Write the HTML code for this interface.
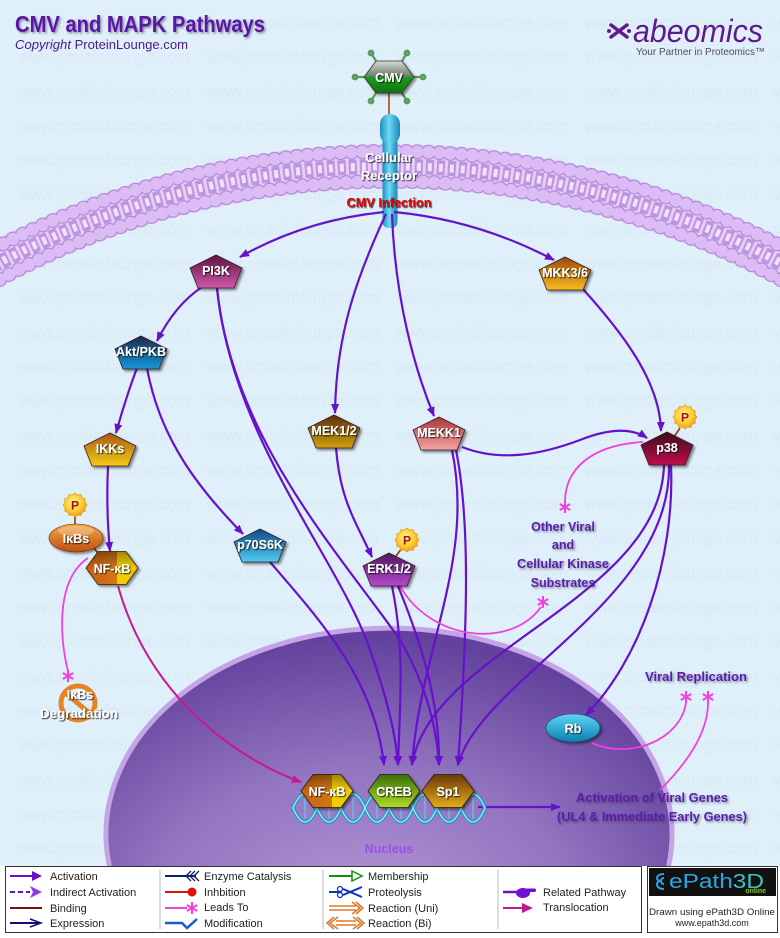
<!DOCTYPE html>
<html><head><meta charset="utf-8">
<style>
html,body{margin:0;padding:0;background:#e0f0fa;width:780px;height:938px;overflow:hidden;}
svg{display:block;overflow:hidden;}
text{font-family:"Liberation Sans",sans-serif;}
</style></head><body>
<svg width="780" height="938" viewBox="0 0 780 938" xmlns="http://www.w3.org/2000/svg">
<defs>
 <clipPath id="clipAll"><rect x="0" y="0" width="780" height="938"/></clipPath>
 <pattern id="wm" patternUnits="userSpaceOnUse" x="0" y="0" width="189" height="34.4">
  <text x="18" y="28" font-size="16" fill="none" stroke="#d7e7f2" stroke-width="0.45" textLength="172" lengthAdjust="spacingAndGlyphs">www.proteinlounge.com</text>
 </pattern>
 <filter id="ds" x="-30%" y="-30%" width="170%" height="170%"><feDropShadow dx="2" dy="2" stdDeviation="1.2" flood-color="#000" flood-opacity="0.45"/></filter>
 <filter id="ts" x="-20%" y="-40%" width="150%" height="190%"><feDropShadow dx="1" dy="1" stdDeviation="0.5" flood-color="#000" flood-opacity="0.8"/></filter>
 <filter id="ps" x="-20%" y="-40%" width="150%" height="190%"><feDropShadow dx="1.5" dy="1.5" stdDeviation="1" flood-color="#333" flood-opacity="0.5"/></filter>
 <marker id="ap" viewBox="0 0 10 8" refX="9" refY="4" markerWidth="10" markerHeight="8" markerUnits="userSpaceOnUse" orient="auto"><path d="M0,0 L10,4 L0,8 z" fill="#6611cc"/></marker>
 <marker id="at" viewBox="0 0 10 8" refX="9" refY="4" markerWidth="10" markerHeight="8" markerUnits="userSpaceOnUse" orient="auto"><path d="M0,0 L10,4 L0,8 z" fill="#c81890"/></marker>
 <linearGradient id="gPI3K" x1="0" y1="0" x2="0" y2="1"><stop offset="0" stop-color="#5a1440"/><stop offset="1" stop-color="#d058a8"/></linearGradient>
 <linearGradient id="gAkt" x1="0" y1="0" x2="0" y2="1"><stop offset="0" stop-color="#1c2850"/><stop offset="1" stop-color="#1898d8"/></linearGradient>
 <linearGradient id="gIKK" x1="0" y1="0" x2="0" y2="1"><stop offset="0" stop-color="#a85a10"/><stop offset="1" stop-color="#f4cc18"/></linearGradient>
 <linearGradient id="gMEK" x1="0" y1="0" x2="0" y2="1"><stop offset="0" stop-color="#5a3008"/><stop offset="1" stop-color="#d0a010"/></linearGradient>
 <linearGradient id="gMEKK" x1="0" y1="0" x2="0" y2="1"><stop offset="0" stop-color="#a83838"/><stop offset="1" stop-color="#f4a4a4"/></linearGradient>
 <linearGradient id="gERK" x1="0" y1="0" x2="0" y2="1"><stop offset="0" stop-color="#4a1a5a"/><stop offset="1" stop-color="#b848d0"/></linearGradient>
 <linearGradient id="gp38" x1="0" y1="0" x2="0" y2="1"><stop offset="0" stop-color="#3a0818"/><stop offset="1" stop-color="#c0104e"/></linearGradient>
 <linearGradient id="gMKK" x1="0" y1="0" x2="0" y2="1"><stop offset="0" stop-color="#a04808"/><stop offset="1" stop-color="#f4bc20"/></linearGradient>
 <linearGradient id="gp70" x1="0" y1="0" x2="0" y2="1"><stop offset="0" stop-color="#104888"/><stop offset="1" stop-color="#50ccf4"/></linearGradient>
 <linearGradient id="gNF" x1="0" y1="0" x2="1" y2="0"><stop offset="0" stop-color="#c86010"/><stop offset="0.6" stop-color="#d07818"/><stop offset="0.6" stop-color="#f0d000"/><stop offset="1" stop-color="#f0c800"/></linearGradient>
 <linearGradient id="gNFv" x1="0" y1="0" x2="0" y2="1"><stop offset="0" stop-color="#000" stop-opacity="0.35"/><stop offset="0.5" stop-color="#000" stop-opacity="0"/><stop offset="1" stop-color="#000" stop-opacity="0"/></linearGradient>
 <linearGradient id="gCREB" x1="0" y1="0" x2="0" y2="1"><stop offset="0" stop-color="#3a7008"/><stop offset="1" stop-color="#acdc28"/></linearGradient>
 <linearGradient id="gSp1" x1="0" y1="0" x2="0" y2="1"><stop offset="0" stop-color="#6a3808"/><stop offset="1" stop-color="#e4ac18"/></linearGradient>
 <linearGradient id="gRb" x1="0" y1="0" x2="0" y2="1"><stop offset="0" stop-color="#60d4f4"/><stop offset="1" stop-color="#0c80b0"/></linearGradient>
 <linearGradient id="gIkb" x1="0" y1="0" x2="0" y2="1"><stop offset="0" stop-color="#f4a848"/><stop offset="1" stop-color="#c05010"/></linearGradient>
 <linearGradient id="gRec" x1="0" y1="0" x2="1" y2="0"><stop offset="0" stop-color="#1890c0"/><stop offset="0.45" stop-color="#70d8f4"/><stop offset="1" stop-color="#1a88b8"/></linearGradient>
 <linearGradient id="gCMV" x1="0" y1="0" x2="0" y2="1"><stop offset="0" stop-color="#d4dcd4"/><stop offset="0.49" stop-color="#6a786a"/><stop offset="0.5" stop-color="#12a012"/><stop offset="1" stop-color="#1a701a"/></linearGradient>
 <radialGradient id="gNuc" gradientUnits="userSpaceOnUse" cx="361" cy="925" r="396" gradientTransform="translate(361,925) scale(1,0.727) translate(-361,-925)"><stop offset="0" stop-color="#b698d8"/><stop offset="0.55" stop-color="#9274c0"/><stop offset="1" stop-color="#62429c"/></radialGradient>
 <radialGradient id="gP" cx="0.45" cy="0.4" r="0.6"><stop offset="0" stop-color="#fff49a"/><stop offset="0.6" stop-color="#ffcc30"/><stop offset="1" stop-color="#f09818"/></radialGradient>
 <g id="ast"><path d="M0,-6 V6 M-5.2,-3 L5.2,3 M-5.2,3 L5.2,-3" stroke="#f040e0" stroke-width="2" fill="none"/></g>
 <g id="pst"><polygon points="12,0 9.95,2.67 10.39,6 7.28,7.28 6,10.39 2.67,9.95 0,12 -2.67,9.95 -6,10.39 -7.28,7.28 -10.39,6 -9.95,2.67 -12,0 -9.95,-2.67 -10.39,-6 -7.28,-7.28 -6,-10.39 -2.67,-9.95 0,-12 2.67,-9.95 6,-10.39 7.28,-7.28 10.39,-6 9.95,-2.67" fill="url(#gP)" stroke="#e8a020" stroke-width="0.8"/><text x="0" y="4.5" font-size="12" font-weight="bold" fill="#a01010" text-anchor="middle">P</text></g>
</defs>

<g clip-path="url(#clipAll)">
<rect width="780" height="938" fill="#e0f0fa"/>
<rect width="780" height="866" fill="url(#wm)"/>

<!-- Title -->
<text x="15" y="32" font-size="23" font-weight="bold" fill="#5a14a8" textLength="250" lengthAdjust="spacingAndGlyphs" filter="url(#ps)">CMV and MAPK Pathways</text>
<text x="15" y="49" font-size="12.5" fill="#4a1a90" textLength="173" lengthAdjust="spacingAndGlyphs"><tspan font-style="italic">Copyright</tspan> ProteinLounge.com</text>

<!-- abeomics -->
<g stroke="#5e1a8e" stroke-width="3.5" stroke-linecap="round" fill="none">
 <path d="M611,25 L627,37 M627,25 L611,37"/>
</g>
<circle cx="609" cy="31" r="2" fill="#5e1a8e"/><circle cx="629" cy="31" r="2" fill="#5e1a8e"/>
<text x="633" y="42" font-size="32" font-style="italic" fill="#5e1a8e" textLength="130" lengthAdjust="spacingAndGlyphs">abeomics</text>
<text x="636" y="55" font-size="10.5" fill="#505050" textLength="129" lengthAdjust="spacingAndGlyphs">Your Partner in Proteomics™</text>

<!-- Membrane -->
<g fill="none">
 <path d="M-56,294.5 A840,840 0 0 1 836,294.5" stroke="#e6ccf6" stroke-width="44"/>
 <path d="M-56,294.5 A840,840 0 0 1 836,294.5" stroke="#bd94e0" stroke-width="15" stroke-dasharray="8 3"/>
 <path d="M-56,294.5 A840,840 0 0 1 836,294.5" stroke="#f0e2fb" stroke-width="8" stroke-dasharray="4 7" stroke-dashoffset="-2"/>
 <path d="M-64,281.8 A855,855 0 0 1 844,281.8" stroke="#b48cda" stroke-width="15" stroke-dasharray="0 11" stroke-linecap="round"/>
 <path d="M-64,281.8 A855,855 0 0 1 844,281.8" stroke="#dcbcf4" stroke-width="12.5" stroke-dasharray="0 11" stroke-linecap="round"/>
 <path d="M-48,307.2 A825,825 0 0 1 828,307.2" stroke="#b48cda" stroke-width="15" stroke-dasharray="0 11" stroke-linecap="round"/>
 <path d="M-48,307.2 A825,825 0 0 1 828,307.2" stroke="#dcbcf4" stroke-width="12.5" stroke-dasharray="0 11" stroke-linecap="round"/>
</g>

<!-- CMV virus + receptor -->
<line x1="389" y1="93" x2="389" y2="116" stroke="#a04818" stroke-width="1.6"/>
<g stroke="#5a9a5a" stroke-width="2.2" fill="#6aaa6a">
 <line x1="376" y1="61" x2="371" y2="53"/><line x1="402" y1="61" x2="407" y2="53"/>
 <line x1="414" y1="77" x2="423" y2="77"/><line x1="364" y1="77" x2="355" y2="77"/>
 <line x1="402" y1="93" x2="407" y2="101"/><line x1="376" y1="93" x2="371" y2="101"/>
 <circle cx="371" cy="53" r="2.3"/><circle cx="407" cy="53" r="2.3"/><circle cx="423" cy="77" r="2.3"/>
 <circle cx="355" cy="77" r="2.3"/><circle cx="407" cy="101" r="2.3"/><circle cx="371" cy="101" r="2.3"/>
</g>
<polygon points="364,77 376,61 402,61 414,77 402,93 376,93" fill="url(#gCMV)" stroke="#2a3a2a" stroke-width="0.8" filter="url(#ds)"/>
<text x="389" y="82" font-size="12.5" font-weight="bold" fill="#fff" text-anchor="middle" filter="url(#ts)">CMV</text>

<rect x="382.5" y="130" width="15" height="98" rx="6" fill="url(#gRec)"/>
<rect x="380" y="114" width="20" height="30" rx="10" fill="url(#gRec)"/>
<text x="389" y="162" font-size="13" font-weight="bold" fill="#fff" text-anchor="middle" filter="url(#ts)">Cellular</text>
<text x="389" y="180" font-size="13" font-weight="bold" fill="#fff" text-anchor="middle" filter="url(#ts)">Receptor</text>
<text x="389" y="207" font-size="12.5" font-weight="bold" fill="#e80000" text-anchor="middle" textLength="85" lengthAdjust="spacingAndGlyphs" filter="url(#ts)">CMV Infection</text>

<!-- Nucleus (clipped at legend top) -->
<path d="M109.4,866 A283,206 0 1 1 668.6,866 Z" fill="url(#gNuc)"/>
<path d="M109.4,866 A283,206 0 1 1 668.6,866" fill="none" stroke="#c4a4e4" stroke-width="5"/>

<!-- Activation arrows -->
<g fill="none" stroke="#6611cc" stroke-width="2.2" marker-end="url(#ap)">
 <path d="M384,212 Q305,220 240,257"/>
 <path d="M394,212 Q478,220 554,260"/>
 <path d="M386,214 C360,270 336,330 335,413"/>
 <path d="M392,214 C395,300 415,370 434,416"/>
 <path d="M202,287 Q175,305 157,341"/>
 <path d="M137,368 Q125,400 116,433"/>
 <path d="M147,368 C160,440 200,490 243,534"/>
 <path d="M108,466 Q106,510 110,551"/>
 <path d="M336,447 C340,500 355,520 372,557"/>
 <path d="M217,288 C232,440 340,560 370,650 Q395,720 398,765"/>
 <path d="M217,288 C232,440 345,560 400,640 Q435,700 439,765"/>
 <path d="M270,562 C320,620 375,680 384,765"/>
 <path d="M392,586 C405,650 400,700 398,765"/>
 <path d="M398,586 C420,640 440,700 439,765"/>
 <path d="M452,450 C475,560 420,650 412,765"/>
 <path d="M456,450 C470,520 468,620 458,765"/>
 <path d="M664,465 C660,600 430,650 412,765"/>
 <path d="M669,465 C672,600 480,680 458,765"/>
 <path d="M671,465 C675,560 640,660 586,715"/>
 <path d="M462,447 C500,462 540,455 580,440 C610,428 632,428 647,438"/>
 <path d="M582,288 C620,330 660,380 661,431"/>
 <path d="M478,807 L560,807"/>
</g>

<!-- Leads-to (pink) -->
<g fill="none" stroke="#f040e0" stroke-width="1.8">
 <path d="M643,442 C590,445 565,470 565,502"/>
 <path d="M400,586 C430,640 510,650 541,607"/>
 <path d="M88,558 C55,580 60,640 68,671"/>
 <path d="M592,743 C630,760 680,740 686,703"/>
 <path d="M660,790 C690,760 708,730 708,703"/>
</g>
<use href="#ast" x="565" y="507"/>
<use href="#ast" x="543" y="602"/>
<use href="#ast" x="68" y="676"/>
<use href="#ast" x="686" y="697"/>
<use href="#ast" x="708" y="697"/>

<!-- Translocation -->
<path d="M118,586 C150,700 240,760 301,782" fill="none" stroke="#c81890" stroke-width="2" marker-end="url(#at)"/>

<!-- binding lines -->
<g stroke="#8a3a10" stroke-width="1.6">
 <line x1="75" y1="516" x2="75" y2="525"/>
 <line x1="94" y1="548" x2="100" y2="556"/>
 <line x1="402" y1="548" x2="396" y2="556"/>
 <line x1="680" y1="428" x2="674" y2="437"/>
</g>

<!-- Pentagon nodes -->
<g filter="url(#ds)" stroke="#3a1a2a" stroke-width="0.8">
 <polygon transform="translate(216,271)" points="0,-16 26,-3 18,17 -18,17 -26,-3" fill="url(#gPI3K)"/>
 <polygon transform="translate(141,352)" points="0,-16 26,-3 18,17 -18,17 -26,-3" fill="url(#gAkt)"/>
 <polygon transform="translate(110,449)" points="0,-16 26,-3 18,17 -18,17 -26,-3" fill="url(#gIKK)"/>
 <polygon transform="translate(260,545)" points="0,-16 26,-3 18,17 -18,17 -26,-3" fill="url(#gp70)"/>
 <polygon transform="translate(334,431)" points="0,-16 26,-3 18,17 -18,17 -26,-3" fill="url(#gMEK)"/>
 <polygon transform="translate(439,433)" points="0,-16 26,-3 18,17 -18,17 -26,-3" fill="url(#gMEKK)"/>
 <polygon transform="translate(389,569)" points="0,-16 26,-3 18,17 -18,17 -26,-3" fill="url(#gERK)"/>
 <polygon transform="translate(667,448)" points="0,-16 26,-3 18,17 -18,17 -26,-3" fill="url(#gp38)"/>
 <polygon transform="translate(565,273)" points="0,-16 26,-3 18,17 -18,17 -26,-3" fill="url(#gMKK)"/>
</g>
<g font-size="12.5" font-weight="bold" fill="#fff" text-anchor="middle" filter="url(#ts)">
 <text x="216" y="275">PI3K</text>
 <text x="141" y="356">Akt/PKB</text>
 <text x="110" y="453">IKKs</text>
 <text x="260" y="549">p70S6K</text>
 <text x="334" y="435">MEK1/2</text>
 <text x="439" y="437">MEKK1</text>
 <text x="389" y="573">ERK1/2</text>
 <text x="667" y="452">p38</text>
 <text x="565" y="277">MKK3/6</text>
</g>

<!-- P stars -->
<use href="#pst" x="75" y="505"/>
<use href="#pst" x="407" y="540"/>
<use href="#pst" x="685" y="417"/>

<!-- IkBs ellipse + NF-kB cyto -->
<ellipse cx="76" cy="538" rx="27" ry="14" fill="url(#gIkb)" stroke="#6a2a08" stroke-width="0.6" filter="url(#ds)"/>
<ellipse cx="76" cy="531" rx="18" ry="5" fill="#fff" opacity="0.25"/>
<text x="76" y="543" font-size="12.5" font-weight="bold" fill="#fff" text-anchor="middle" filter="url(#ts)">IκBs</text>
<g transform="translate(112,568)" filter="url(#ds)">
 <polygon points="-26,0 -14,-16.5 14,-16.5 26,0 14,16.5 -14,16.5" fill="url(#gNF)" stroke="#3a1a08" stroke-width="0.8"/>
 <polygon points="-26,0 -14,-16.5 14,-16.5 26,0 14,16.5 -14,16.5" fill="url(#gNFv)"/>
</g>
<text x="112" y="573" font-size="12.5" font-weight="bold" fill="#fff" text-anchor="middle" filter="url(#ts)">NF-κB</text>

<!-- IkBs degradation -->
<circle cx="78" cy="703" r="17" fill="none" stroke="#e48424" stroke-width="5"/>
<line x1="63" y1="691" x2="93" y2="716" stroke="#e48424" stroke-width="5"/>
<text x="80" y="699" font-size="12.5" font-weight="bold" fill="#fff" text-anchor="middle" filter="url(#ts)">IκBs</text>
<text x="79" y="718" font-size="12.5" font-weight="bold" fill="#fff" text-anchor="middle" filter="url(#ts)" textLength="78" lengthAdjust="spacingAndGlyphs">Degradation</text>

<!-- Rb -->
<ellipse cx="573" cy="728" rx="27" ry="14" fill="url(#gRb)" stroke="#08506a" stroke-width="0.6" filter="url(#ds)"/>
<text x="573" y="733" font-size="12.5" font-weight="bold" fill="#fff" text-anchor="middle" filter="url(#ts)">Rb</text>

<!-- DNA -->
<g fill="none">
 <path d="M293,808 Q305,780 317,808 T341,808 T365,808 T389,808 T413,808 T437,808 T461,808 T485,808" stroke="#2a98c8" stroke-width="4"/>
 <path d="M293,808 Q305,836 317,808 T341,808 T365,808 T389,808 T413,808 T437,808 T461,808 T485,808" stroke="#2a98c8" stroke-width="4"/>
 <path d="M293,808 Q305,780 317,808 T341,808 T365,808 T389,808 T413,808 T437,808 T461,808 T485,808" stroke="#a8e8fa" stroke-width="1.3"/>
 <path d="M293,808 Q305,836 317,808 T341,808 T365,808 T389,808 T413,808 T437,808 T461,808 T485,808" stroke="#a8e8fa" stroke-width="1.3"/>
 <g stroke="#5ec0e4" stroke-width="1.5">
  <path d="M305,797 V819 M329,797 V819 M353,797 V819 M377,797 V819 M401,797 V819 M425,797 V819 M449,797 V819 M473,797 V819"/>
 </g>
</g>

<!-- Nuclear hexagons -->
<g filter="url(#ds)" stroke="#2a1a08" stroke-width="0.8">
 <g transform="translate(327,791)">
  <polygon points="-26,0 -14,-16.5 14,-16.5 26,0 14,16.5 -14,16.5" fill="url(#gNF)"/>
  <polygon points="-26,0 -14,-16.5 14,-16.5 26,0 14,16.5 -14,16.5" fill="url(#gNFv)" stroke="none"/>
 </g>
 <polygon transform="translate(394,791)" points="-26,0 -14,-16.5 14,-16.5 26,0 14,16.5 -14,16.5" fill="url(#gCREB)"/>
 <polygon transform="translate(448,791)" points="-26,0 -14,-16.5 14,-16.5 26,0 14,16.5 -14,16.5" fill="url(#gSp1)"/>
</g>
<g font-size="12.5" font-weight="bold" fill="#fff" text-anchor="middle" filter="url(#ts)">
 <text x="327" y="796">NF-κB</text>
 <text x="394" y="796">CREB</text>
 <text x="448" y="796">Sp1</text>
</g>
<text x="389" y="853" font-size="12.5" font-weight="bold" fill="#9b4fe8" text-anchor="middle">Nucleus</text>

<!-- Purple labels -->
<g font-size="12.5" font-weight="bold" fill="#5a1ab0" text-anchor="middle" filter="url(#ps)">
 <text x="563" y="531">Other Viral</text>
 <text x="563" y="549">and</text>
 <text x="563" y="568" textLength="92" lengthAdjust="spacingAndGlyphs">Cellular Kinase</text>
 <text x="563" y="587">Substrates</text>
 <text x="696" y="681" textLength="102" lengthAdjust="spacingAndGlyphs">Viral Replication</text>
 <text x="652" y="802" textLength="152" lengthAdjust="spacingAndGlyphs">Activation of Viral Genes</text>
 <text x="652" y="821" textLength="190" lengthAdjust="spacingAndGlyphs">(UL4 &amp; Immediate Early Genes)</text>
</g>

<!-- Legend -->
<rect x="0" y="866" width="780" height="72" fill="#ffffff"/>
<rect x="5.5" y="866.5" width="636" height="66" fill="#fff" stroke="#333" stroke-width="1"/>
<g stroke="#bbb" stroke-width="1">
 <line x1="160" y1="870" x2="160" y2="929"/>
 <line x1="323" y1="870" x2="323" y2="929"/>
 <line x1="498" y1="870" x2="498" y2="929"/>
</g>
<!-- col1 -->
<line x1="10" y1="876" x2="33" y2="876" stroke="#6611cc" stroke-width="2"/>
<path d="M32,871 L42,876 L32,881z" fill="#6611cc"/>
<line x1="10" y1="892" x2="30" y2="892" stroke="#6611cc" stroke-width="2" stroke-dasharray="5 3"/>
<path d="M30,886 L42,892 L30,898 L33,892z" fill="#8a3ae8"/>
<line x1="10" y1="908" x2="42" y2="908" stroke="#7a1010" stroke-width="2"/>
<line x1="10" y1="923" x2="40" y2="923" stroke="#101070" stroke-width="2"/>
<path d="M30,919 L41,923 L30,927" fill="none" stroke="#101070" stroke-width="1.5"/>
<!-- col2 -->
<line x1="165" y1="876" x2="196" y2="876" stroke="#102070" stroke-width="2"/>
<path d="M191,871 L186,876 L191,881 M195,871 L190,876 L195,881 M199,871 L194,876 L199,881" fill="none" stroke="#102070" stroke-width="1.3"/>
<line x1="165" y1="892" x2="190" y2="892" stroke="#e01010" stroke-width="2"/>
<circle cx="192" cy="892" r="4.5" fill="#e01010"/>
<line x1="165" y1="908" x2="187" y2="908" stroke="#f040e0" stroke-width="2"/>
<use href="#ast" x="192" y="908"/>
<path d="M165,923 H182 L187,928 L197,919" fill="none" stroke="#1060d0" stroke-width="2.5"/>
<!-- col3 -->
<line x1="329" y1="876" x2="352" y2="876" stroke="#109010" stroke-width="2"/>
<path d="M352,871 L362,876 L352,881z" fill="#fff" stroke="#109010" stroke-width="1.5"/>
<line x1="329" y1="892" x2="342" y2="892" stroke="#1030c0" stroke-width="2"/>
<circle cx="340" cy="889" r="2.5" fill="none" stroke="#1030c0" stroke-width="1.3"/>
<circle cx="340" cy="895" r="2.5" fill="none" stroke="#1030c0" stroke-width="1.3"/>
<path d="M343,889 L362,897 M343,895 L362,887" stroke="#1030c0" stroke-width="2"/>
<path d="M329,906 H356 M329,910 H356" stroke="#e07828" stroke-width="1.5"/>
<path d="M352,902 L360,908 L352,914 M356,902 L363,908 L356,914" fill="none" stroke="#e07828" stroke-width="1.5"/>
<path d="M336,921 H356 M336,925 H356" stroke="#e07828" stroke-width="1.5"/>
<path d="M338,917 L330,923 L338,929 M334,917 L327,923 L334,929 M353,917 L361,923 L353,929 M357,917 L364,923 L357,929" fill="none" stroke="#e07828" stroke-width="1.5"/>
<!-- col4 -->
<line x1="503" y1="892" x2="518" y2="892" stroke="#6611cc" stroke-width="2.5"/>
<ellipse cx="523" cy="893" rx="7" ry="5" fill="#7010d8"/>
<rect x="526" y="888.5" width="10" height="3.5" rx="1.5" fill="#7010d8"/>
<line x1="503" y1="908" x2="524" y2="908" stroke="#c01890" stroke-width="2"/>
<path d="M522,903 L533,908 L522,913z" fill="#c01890"/>
<g font-size="11" fill="#222">
 <text x="50" y="880">Activation</text>
 <text x="50" y="896">Indirect Activation</text>
 <text x="50" y="912">Binding</text>
 <text x="50" y="927">Expression</text>
 <text x="204" y="880">Enzyme Catalysis</text>
 <text x="204" y="896">Inhbition</text>
 <text x="204" y="911">Leads To</text>
 <text x="204" y="927">Modification</text>
 <text x="368" y="880">Membership</text>
 <text x="368" y="896">Proteolysis</text>
 <text x="368" y="912">Reaction (Uni)</text>
 <text x="368" y="927">Reaction (Bi)</text>
 <text x="543" y="896">Related Pathway</text>
 <text x="543" y="911">Translocation</text>
</g>
<!-- ePath3D -->
<rect x="647.5" y="866.5" width="130" height="66" fill="#fff" stroke="#333" stroke-width="1"/>
<rect x="649" y="868" width="127" height="28" fill="#111"/>
<g fill="none" stroke="#2aa8e0" stroke-width="2">
 <path d="M664,874 C656,874 655,880 660,881 C655,882 656,889 664,889"/>
 <path d="M664,878 C660,878 660,884 664,884"/>
</g>
<text x="669" y="888" font-size="20" fill="#2aa8e0" textLength="95" lengthAdjust="spacingAndGlyphs">ePath<tspan fill="#40c0c8">3D</tspan></text>
<text x="766" y="893" font-size="7" font-weight="bold" fill="#8cc820" text-anchor="end">online</text>
<text x="712" y="915" font-size="9" fill="#222" text-anchor="middle" textLength="126" lengthAdjust="spacingAndGlyphs">Drawn using ePath3D Online</text>
<text x="712" y="926" font-size="9" fill="#222" text-anchor="middle">www.epath3d.com</text>
</g>
</svg>
</body></html>
